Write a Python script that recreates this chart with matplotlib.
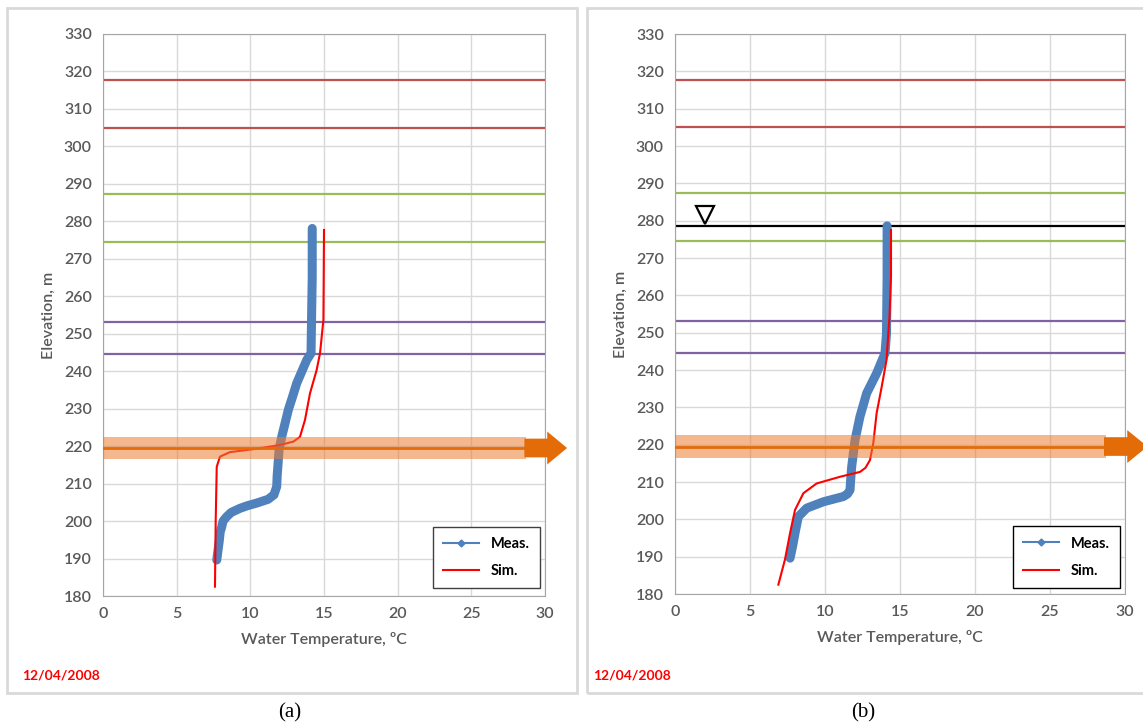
# water temperature profiles, panels (a) and (b)

import matplotlib.pyplot as plt
from matplotlib.patches import Rectangle, FancyArrow
from matplotlib.lines import Line2D

# measured / simulated profiles, panel (a)
meas_a_t = [14.2, 14.2, 14.15, 14.12, 13.83, 13.5, 13.15, 12.85, 12.58, 12.35, 12.13, 11.95, 11.9, 11.82,
            11.79, 11.6, 11.2, 10.43, 9.8, 9.3, 8.7, 8.4, 8.15, 8.06, 7.95, 7.9, 7.8, 7.72]
meas_a_z = [278.1, 265, 252.8, 244.8, 243, 240, 236.8, 233, 229.7, 226, 222.5, 219, 216.3, 212,
            209.2, 207, 205.8, 204.8, 204.1, 203.4, 202.3, 201.2, 200, 198.5, 197, 195, 192, 189.6]
sim_a_t = [15.0, 14.98, 14.96, 14.73, 14.5, 14.05, 13.71, 13.37, 12.92, 12.0, 10.43, 8.62, 7.94, 7.72, 7.65, 7.6]
sim_a_z = [277.7, 265, 253.7, 244.8, 240.3, 234.1, 227, 222.5, 221.2, 220.3, 219.3, 218.4, 217.2, 214.5, 200.3, 182.5]

# panel (b)
meas_b_t = [14.14, 14.14, 14.1, 14.0, 13.44, 12.78, 12.33, 12.0, 11.78, 11.7, 11.67, 11.5, 11.22, 9.89,
            8.78, 8.22, 8.0, 7.85, 7.67]
meas_b_z = [278.6, 265, 249.8, 244.5, 239.1, 233.8, 227.5, 221.2, 214.1, 210, 207.9, 206.8, 206.1, 204.7,
            203, 200.7, 196.3, 193, 189.6]
sim_b_t = [14.4, 14.4, 14.3, 14.1, 13.78, 13.44, 13.22, 13.0, 12.7, 12.33, 11.0, 9.44, 8.56, 8.0, 7.67, 7.33, 6.89]
sim_b_z = [277.5, 265, 254.3, 242.7, 235.5, 228.4, 220.4, 215.9, 213.8, 212.7, 211.4, 209.6, 207.0, 202.5,
           196.3, 189.2, 182.5]

# reference elevations
red_levels = [317.7, 305.0]
green_levels = [287.3, 274.5]
purple_levels = [253.0, 244.5]
outlet_level = 219.5
water_level_b = 278.5

date_label = "12/04/2008"
captions = ["(a)", "(b)"]

W, H = 1143, 726
fig = plt.figure(figsize=(W / 100, H / 100), dpi=100)
plt.rcParams['font.family'] = ['Lato', 'DejaVu Sans']

gray = '#595959'


def px_rect(x0, y0, x1, y1):
    return [x0 / W, 1 - y1 / H, (x1 - x0) / W, (y1 - y0) / H]


# panel frames
for x0, x1 in [(7, 577), (587, 1150)]:
    fig.patches.append(Rectangle((x0 / W, 1 - 693 / H), (x1 - x0) / W, 685 / H,
                                 transform=fig.transFigure, fill=False,
                                 edgecolor='#d9d9d9', linewidth=2))

axes_pos = [px_rect(103, 34, 545, 596), px_rect(675, 34, 1125, 594)]
panels = [(meas_a_t, meas_a_z, sim_a_t, sim_a_z), (meas_b_t, meas_b_z, sim_b_t, sim_b_z)]
legend_pos = [(0.989, 0.014), (0.989, 0.011)]
legend_edge = ['#404040', '#000000']

for i, (mt, mz, st, sz) in enumerate(panels):
    ax = fig.add_axes(axes_pos[i])
    ax.set_xlim(0, 30)
    ax.set_ylim(180, 330)
    ax.set_xticks(range(0, 31, 5))
    ax.set_yticks(range(180, 331, 10))
    ax.grid(True, color='#d9d9d9', linewidth=1)
    ax.set_axisbelow(True)
    for s in ax.spines.values():
        s.set_color('#a6a6a6')
    ax.tick_params(length=0, labelsize=11.5, labelcolor=gray, pad=8)
    for lab in ax.get_xticklabels() + ax.get_yticklabels():
        lab.set_fontweight('semibold')
    ax.set_xlabel("Water Temperature, ºC", fontsize=11.5, color=gray, labelpad=8,
                  fontweight='semibold')
    ax.set_ylabel("Elevation, m", fontsize=11.5, color=gray, labelpad=6,
                  fontweight='semibold')

    for z in red_levels:
        ax.axhline(z, color='#C0504D', lw=1.6)
    for z in green_levels:
        ax.axhline(z, color='#9BBB59', lw=1.6)
    for z in purple_levels:
        ax.axhline(z, color='#8064A2', lw=1.6)
    if i == 1:
        ax.axhline(water_level_b, color='black', lw=1.6)
        ax.plot([2.0], [281.6], marker='v', ms=13, mfc='white', mec='black', mew=1.6)

    ax.plot(mt, mz, color='#4F81BD', lw=6.5, solid_capstyle='round', solid_joinstyle='round')
    ax.plot(st, sz, color='#FF0000', lw=1.5)

    # outlet band and arrow
    band_end = 28.7
    ax.fill_between([0, band_end], outlet_level - 3, outlet_level + 3, color='#ED7D31',
                    alpha=0.55, lw=0, zorder=4)
    ax.plot([0, band_end], [outlet_level, outlet_level], color='#E36C09', lw=2, zorder=5)
    ax.add_patch(FancyArrow(28.6, outlet_level, 2.9, 0, width=5.0, head_width=8.8,
                            head_length=1.35, length_includes_head=True,
                            color='#E36C09', lw=0, clip_on=False, zorder=6))

    handles = [Line2D([], [], color='#4F81BD', lw=1.5, marker='D', ms=3.5),
               Line2D([], [], color='#FF0000', lw=1.5)]
    leg = ax.legend(handles, ['Meas.', 'Sim.'], loc='lower right', bbox_to_anchor=legend_pos[i],
                    borderaxespad=0, fancybox=False, framealpha=1, edgecolor=legend_edge[i],
                    prop={'size': 10.5, 'weight': 'bold', 'family': 'Lato'},
                    handlelength=2.5, borderpad=0.7, labelspacing=0.9)
    leg.get_frame().set_linewidth(1.0)

# dates and captions
for x in [22, 593]:
    fig.text(x / W, 1 - 675 / H, date_label, color='#FF0000', fontsize=10,
             fontweight='bold', va='center', ha='left')
for x, c in zip([290, 863], captions):
    fig.text(x / W, 1 - 713 / H, c, fontsize=15, family='Liberation Serif',
             va='center', ha='center')

fig.savefig('out.png', dpi=100)
